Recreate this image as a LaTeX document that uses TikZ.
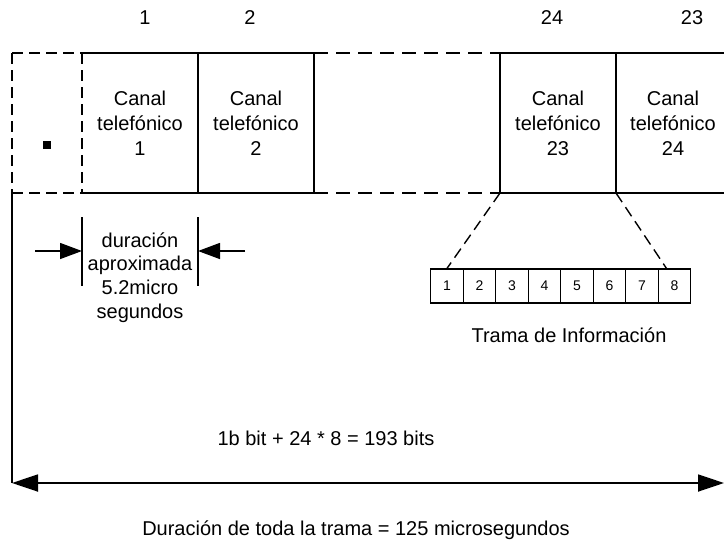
\documentclass[tikz,border=0pt]{standalone}
\usepackage{fontspec}
\setmainfont{Liberation Sans}
\usetikzlibrary{arrows.meta}
\begin{document}
\begin{tikzpicture}[x=1pt,y=-1pt,
  line width=1.4pt,
  lbl/.style={font=\fontsize{20}{25}\selectfont, align=center, inner sep=0pt},
  durlbl/.style={font=\fontsize{20}{23.7}\selectfont, align=center, inner sep=0pt},
  bitbox/.style={draw, line width=1.2pt, minimum width=32.5pt, minimum height=34pt, inner sep=0pt, font=\fontsize{14}{16}\selectfont},
  dsh/.style={dash pattern=on 14pt off 8pt},
  dshs/.style={dash pattern=on 11pt off 6pt},
  tipst/.style={-{Triangle[length=22pt,width=16pt]}},
  bigarr/.style={{Triangle[length=26pt,width=17pt]}-{Triangle[length=26pt,width=17pt]}, line width=1.8pt}
]
\useasboundingbox (0,0) rectangle (724,542);
% corner coordinates
\coordinate (t0) at (12,53);  \coordinate (u0) at (12,193);
\coordinate (t1) at (82,53);  \coordinate (u1) at (82,193);
\coordinate (t2) at (198,53); \coordinate (u2) at (198,193);
\coordinate (t3) at (314,53); \coordinate (u3) at (314,193);
\coordinate (t4) at (500,53); \coordinate (u4) at (500,193);
\coordinate (t5) at (616,53); \coordinate (u5) at (616,193);
\coordinate (t6) at (724,53); \coordinate (u6) at (724,193);
\coordinate (al) at (12,483); \coordinate (ar) at (724,483);
% top numbers
\node[lbl] (n1) at (145,18) {1};
\node[lbl] (n2) at (250,18) {2};
\node[lbl] (n24) at (552,18) {24};
\node[lbl] (n23) at (692,18) {23};
% left dashed box
\draw[dshs] (t0) -- (t1) (u0) -- (u1) (t0) -- (u0) (t1) -- (u1);
\fill (43,141) rectangle (51,149);
% solid boxes
\draw (t1) -- (t3) (u1) -- (u3) (t2) -- (u2) (t3) -- (u3);
\draw[dsh] (t3) -- (t4) (u3) -- (u4);
\draw (t4) -- (t6) (u4) -- (u6) (t4) -- (u4) (t5) -- (u5);
% channel texts
\node[lbl] (c1) at (140,123) {Canal\\telefónico\\1};
\node[lbl] (c2) at (256,123) {Canal\\telefónico\\2};
\node[lbl] (c23) at (558,123) {Canal\\telefónico\\23};
\node[lbl] (c24) at (673,123) {Canal\\telefónico\\24};
% bit frame
\foreach \i in {1,...,8}{
  \node[bitbox] (b\i) at ({430.75+32.5*(\i-0.5)},286) {\i};
}
\draw[dshs] (u4) -- (b1.north);
\draw[dshs] (u5) -- ([xshift=-8pt]b8.north);
\node[lbl] (trama) at (569,335) {Trama de Información};
% duration indicator
\coordinate (d1t) at (82,217); \coordinate (d1b) at (82,286);
\coordinate (d2t) at (198,217); \coordinate (d2b) at (198,286);
\coordinate (dl) at (35,251); \coordinate (dlt) at (82,251);
\coordinate (dr) at (245,251); \coordinate (drt) at (198,251);
\draw (d1t) -- (d1b) (d2t) -- (d2b);
\draw[tipst] (dl) -- (dlt);
\draw[tipst] (dr) -- (drt);
\node[durlbl] (dur) at (140,277.5) {duración\\aproximada\\5.2micro\\segundos};
% total
\draw (u0) -- (al);
\draw[bigarr] (al) -- (ar);
\node[lbl] (bits) at (326,438) {1b bit + 24 * 8 = 193 bits};
\node[lbl] (tot) at (356,530) {Duración de toda la trama = 125 microsegundos};
\end{tikzpicture}
\end{document}
